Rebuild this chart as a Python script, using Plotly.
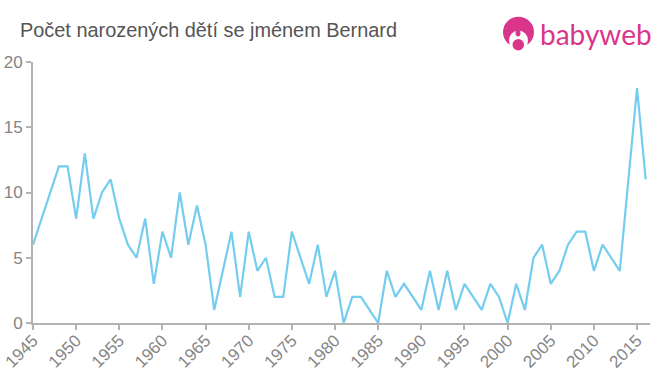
import plotly.graph_objects as go

years = list(range(1945, 2017))
births = [6, 8, 10, 12, 12, 8, 13, 8, 10, 11, 8, 6, 5, 8, 3, 7, 5, 10, 6, 9, 6, 1, 4, 7, 2, 7, 4, 5, 2, 2,
          7, 5, 3, 6, 2, 4, 0, 2, 2, 1, 0, 4, 2, 3, 2, 1, 4, 1, 4, 1, 3, 2, 1, 3, 2, 0, 3, 1, 5, 6,
          3, 4, 6, 7, 7, 4, 6, 5, 4, 11, 18, 11]
x_ticks = list(range(1945, 2016, 5))
y_ticks = [0, 5, 10, 15, 20]
title = "Počet narozených dětí se jménem Bernard"
logo_text = "babyweb"

W, H = 660, 375
L, R, T, B = 33, 10, 61.5, 51.5
PW, PH = W - L - R, H - T - B
PINK = "#d9368b"
FONT = "Liberation Sans, Arial, sans-serif"

def px(v):
    return (v - L) / PW

def py(v):
    return (H - B - v) / PH

fig = go.Figure(go.Scatter(x=years, y=births, mode="lines",
                           line=dict(color="#74cdee", width=2.2),
                           hoverinfo="skip", cliponaxis=False))

axis_line = dict(showline=True, linecolor="#b3b3b3", linewidth=2, ticks="outside",
                 tickcolor="#b3b3b3", tickwidth=2, ticklen=5, showgrid=False, zeroline=False,
                 automargin=False)

def logo_shape(kind, x0, x1, y0, y1, color):
    return dict(type=kind, xref="paper", yref="paper", layer="above",
                x0=px(x0), x1=px(x1), y0=py(y0), y1=py(y1), fillcolor=color, line_width=0)

fig.update_layout(
    width=W, height=H, autosize=False,
    margin=dict(l=L, r=R, t=T, b=B, pad=0, autoexpand=False),
    paper_bgcolor="white", plot_bgcolor="white", showlegend=False,
    xaxis=dict(range=[1945, 2016.5], tickmode="array", tickvals=x_ticks,
               ticktext=[str(v) for v in x_ticks], tickangle=-45,
               tickfont=dict(family=FONT, size=17, color="#858585"),
               ticklabelstandoff=-6, **axis_line),
    yaxis=dict(range=[0, 20], tickmode="array", tickvals=y_ticks,
               ticktext=[str(v) for v in y_ticks],
               tickfont=dict(family=FONT, size=17, color="#858585"), **axis_line),
    annotations=[
        dict(text=title, xref="paper", yref="paper", x=px(18), y=py(29.5),
             xanchor="left", yanchor="middle", showarrow=False,
             font=dict(family=FONT, size=19.9, color="#555555")),
        dict(text=logo_text, xref="paper", yref="paper", x=px(538), y=py(33),
             xanchor="left", yanchor="middle", showarrow=False,
             font=dict(family="Lato, Noto Sans, sans-serif", size=28, color=PINK)),
    ],
    shapes=[
        logo_shape("circle", 503, 534, 47, 16, PINK),
        logo_shape("rect", 500, 537, 51, 44, "white"),
        logo_shape("circle", 509, 528, 50, 30, "white"),
        logo_shape("circle", 515.5, 520.5, 36, 29, PINK),
        logo_shape("circle", 512.5, 524, 50, 38.5, PINK),
    ],
)

fig.write_html("out.html", config={"displayModeBar": False},
               post_script="document.body.style.margin='0';document.documentElement.style.overflow='hidden';")
